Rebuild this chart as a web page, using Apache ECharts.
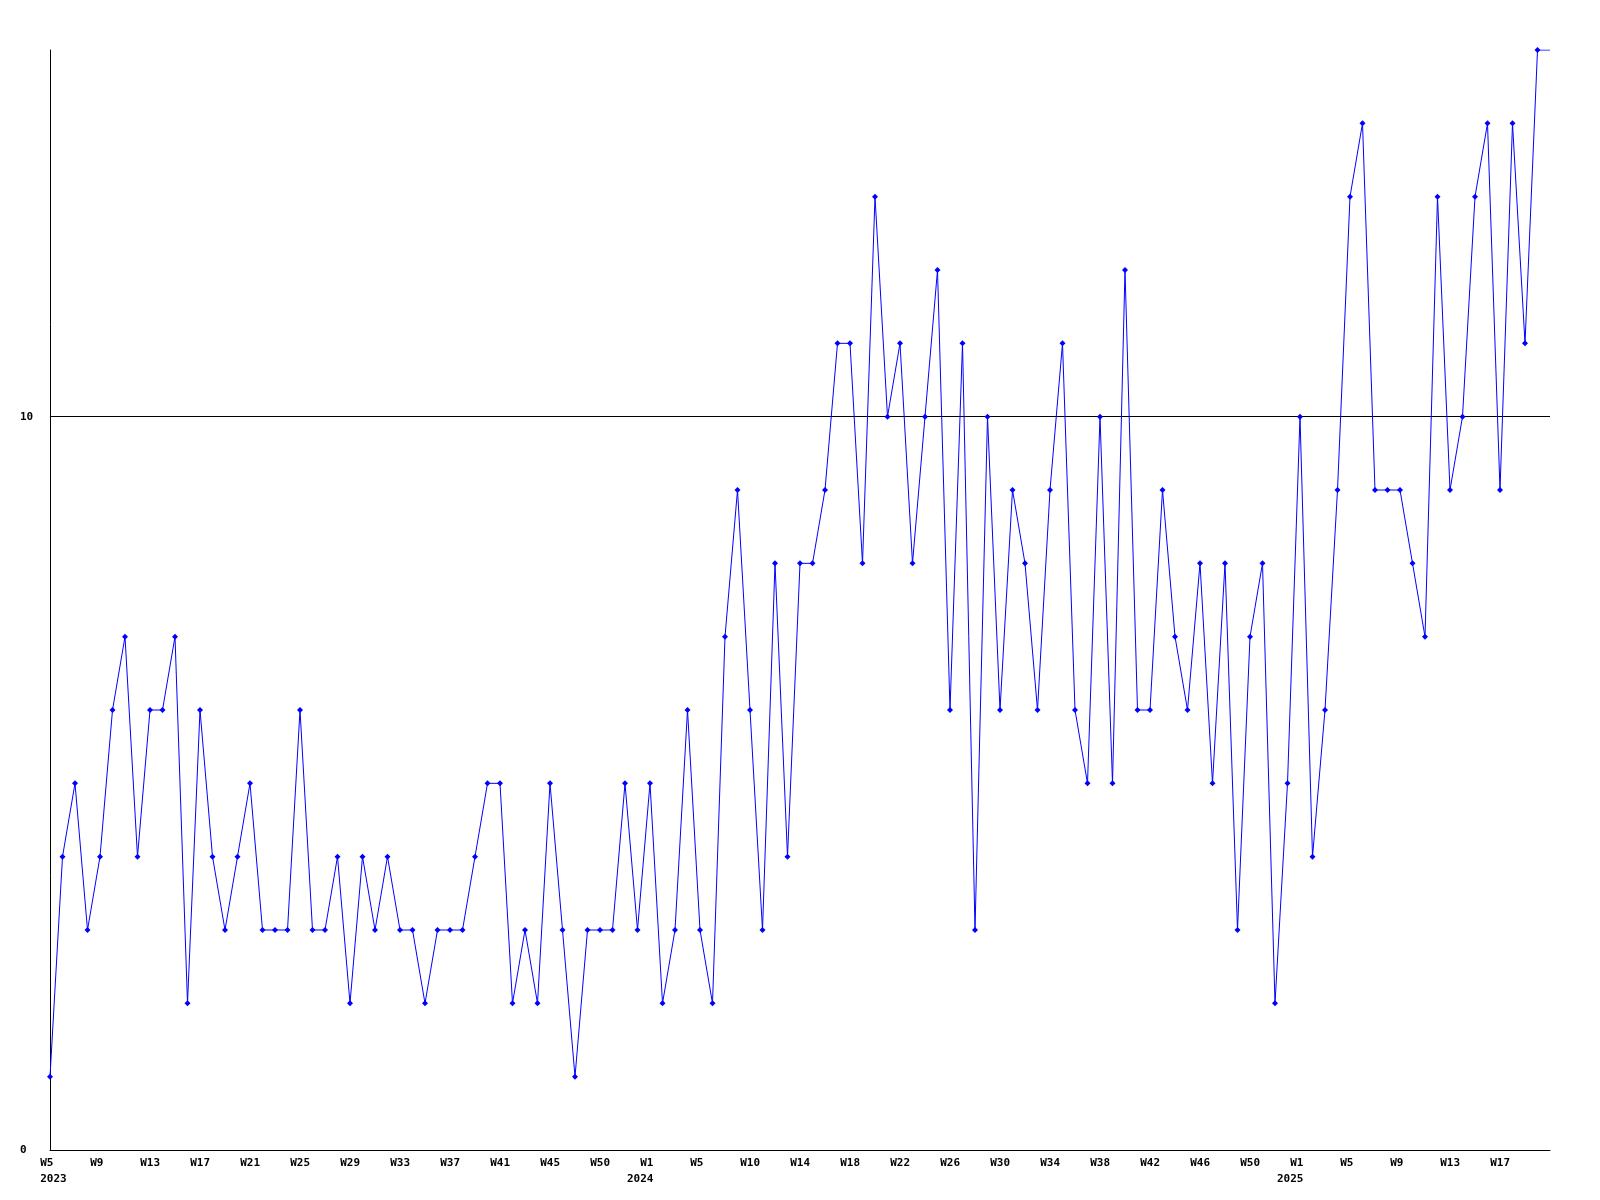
<!DOCTYPE html>
<html>
<head>
<meta charset="utf-8">
<script src="https://cdn.jsdelivr.net/npm/echarts@6/dist/echarts.min.js"></script>
<style>
html,body{margin:0;padding:0;background:#fff;}
#chart{width:1600px;height:1200px;}
</style>
</head>
<body>
<div id="chart"></div>
<script>
// weekly values, W5 2023 .. W20 2025, plus trailing open point
var values2023 = [1,4,5,3,4,6,7,4,6,6,7,2,6,4,3,4,5,3,3,3,6,3,3,4,2,4,3,4,3,3,2,3,3,3,4,5,5,2,3,2,5,3,1,3,3,3,5,3];
var values2024 = [5,2,3,6,3,2,7,9,6,3,8,4,8,8,9,11,11,8,13,10,11,8,10,12,6,11,3,10,6,9,8,6,9,11,6,5,10,5,12,6,6,9,7,6,8,5,8,3,7,8,2,5];
var values2025 = [10,4,6,9,13,14,9,9,9,8,7,13,9,10,13,14,9,14,11,15];
var trailingValue = 15;

// x-axis tick labels, one every 4 points
var weekTicks = ['W5','W9','W13','W17','W21','W25','W29','W33','W37','W41','W45','W50',
                 'W1','W5','W10','W14','W18','W22','W26','W30','W34','W38','W42','W46','W50',
                 'W1','W5','W9','W13','W17'];
var yearTickIndex = [0, 12, 25];
var yearLabels = ['2023','2024','2025'];

var allValues = values2023.concat(values2024, values2025);
var seriesData = allValues.map(function(v){ return v; });
seriesData.push({ value: trailingValue, symbol: 'none' });
var categories = seriesData.map(function(_, i){ return String(i); });

var chart = echarts.init(document.getElementById('chart'), null, {renderer: 'canvas'});
var FONT = 'DejaVu Sans Mono';
chart.setOption({
  animation: false,
  backgroundColor: '#ffffff',
  grid: { left: 50, right: 50, top: 50, bottom: 50, containLabel: false },
  xAxis: {
    type: 'category',
    data: categories,
    boundaryGap: false,
    axisLine: { show: true, lineStyle: { color: '#000', width: 1 } },
    axisTick: { show: false },
    splitLine: { show: false },
    axisLabel: {
      interval: function(i){ return i % 4 === 0 && i / 4 < weekTicks.length; },
      formatter: function(v, i){
        var k = i / 4;
        var s = '  ' + (weekTicks[k] || '');
        var y = yearTickIndex.indexOf(k);
        if (y === 0) s += '\n  ' + yearLabels[y];
        else if (y > 0) s += '\n' + yearLabels[y];
        return s;
      },
      align: 'left',
      padding: [0, 0, 0, -23],
      margin: 5,
      color: '#000',
      fontFamily: FONT,
      fontWeight: 'bold',
      fontSize: 11,
      lineHeight: 16
    }
  },
  yAxis: {
    type: 'value',
    min: 0,
    max: 15,
    interval: 10,
    axisLine: { show: true, lineStyle: { color: '#000', width: 1 } },
    axisTick: { show: false },
    splitLine: { show: true, lineStyle: { color: ['#000', '#000', 'rgba(0,0,0,0)'], width: 1 } },
    axisLabel: {
      showMaxLabel: false,
      align: 'left',
      margin: 30,
      color: '#000',
      fontFamily: FONT,
      fontWeight: 'bold',
      fontSize: 11
    }
  },
  series: [{
    type: 'line',
    data: seriesData,
    showAllSymbol: true,
    symbol: 'diamond',
    symbolSize: 6,
    lineStyle: { color: '#0000ff', width: 1 },
    itemStyle: { color: '#0000ff' },
    z: 3
  }]
});
</script>
</body>
</html>
